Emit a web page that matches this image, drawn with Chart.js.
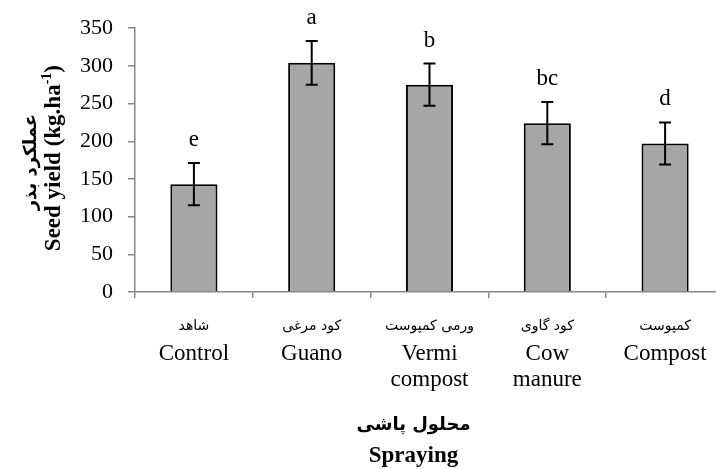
<!DOCTYPE html>
<html>
<head>
<meta charset="utf-8">
<script src="https://cdn.jsdelivr.net/npm/chart.js@4.4.1/dist/chart.umd.min.js"></script>
<style>
html,body{margin:0;padding:0;background:#fff;overflow:hidden;}
#wrap{width:730px;height:469px;}
</style>
</head>
<body>
<div id="wrap"><canvas id="c" width="730" height="469"></canvas></div>
<script>
const categoriesFa = ['شاهد', 'کود مرغی', 'ورمی کمپوست', 'کود گاوی', 'کمپوست'];
const categoriesEn = [['Control'], ['Guano'], ['Vermi', 'compost'], ['Cow', 'manure'], ['Compost']];
const yieldValues = [143, 304, 275, 224, 197];
const errorValues = [28, 29, 28, 28, 28];
const letters = ['e', 'a', 'b', 'bc', 'd'];
const yTicks = [0, 50, 100, 150, 200, 250, 300, 350];
const xTitleFa = 'محلول پاشی';
const xTitleEn = 'Spraying';
const yTitleFa = 'عملکرد بذر';
const yTitleEn = 'Seed yield (kg.ha';
const yTitleSup = '-1';

const SERIF = '"Liberation Serif", "Times New Roman", serif';
const FA = '"DejaVu Sans", "Noto Sans", sans-serif';

// English labels get an empty first line; the Persian line is drawn there by the plugin
const tickLabels = categoriesEn.map(l => [''].concat(l));

const extras = {
  id: 'extras',
  afterDatasetsDraw(chart) {
    const ctx = chart.ctx;
    const xs = chart.scales.x, ys = chart.scales.y;
    const ca = chart.chartArea;
    ctx.save();
    ctx.strokeStyle = '#000';
    ctx.lineWidth = 2;
    yieldValues.forEach((v, i) => {
      const x = xs.getPixelForValue(i);
      const yt = ys.getPixelForValue(v + errorValues[i]);
      const yb = ys.getPixelForValue(v - errorValues[i]);
      ctx.beginPath();
      ctx.moveTo(x, yt); ctx.lineTo(x, yb);
      ctx.moveTo(x - 6, yt); ctx.lineTo(x + 6, yt);
      ctx.moveTo(x - 6, yb); ctx.lineTo(x + 6, yb);
      ctx.stroke();
      ctx.fillStyle = '#000';
      ctx.font = '23px ' + SERIF;
      ctx.textAlign = 'center';
      ctx.textBaseline = 'alphabetic';
      ctx.fillText(letters[i], x, yt - 17);
    });
    // Persian category labels
    ctx.font = '14px ' + FA;
    ctx.textBaseline = 'middle';
    categoriesFa.forEach((t, i) => {
      ctx.fillText(t, xs.getPixelForValue(i), ca.bottom + 34);
    });
    // x axis title
    const xc = (ca.left + ca.right) / 2 - 16;
    ctx.font = 'bold 18px ' + FA;
    ctx.fillText(xTitleFa, xc, ca.bottom + 133);
    ctx.font = 'bold 23px ' + SERIF;
    ctx.textBaseline = 'alphabetic';
    ctx.fillText(xTitleEn, xc, ca.bottom + 170);
    // y axis title (rotated)
    const yc = (ca.top + ca.bottom) / 2;
    ctx.save();
    ctx.translate(36, yc + 2);
    ctx.rotate(-Math.PI / 2);
    ctx.font = 'bold 18px ' + FA;
    ctx.textAlign = 'center';
    ctx.textBaseline = 'alphabetic';
    ctx.fillText(yTitleFa, 0, 0);
    ctx.restore();
    ctx.save();
    ctx.translate(60, yc - 2);
    ctx.rotate(-Math.PI / 2);
    ctx.textAlign = 'left';
    ctx.textBaseline = 'alphabetic';
    ctx.font = 'bold 23px ' + SERIF;
    const w1 = ctx.measureText(yTitleEn).width;
    const w3 = ctx.measureText(')').width;
    ctx.font = 'bold 14px ' + SERIF;
    const w2 = ctx.measureText(yTitleSup).width;
    const x0 = -(w1 + w2 + w3) / 2;
    ctx.font = 'bold 23px ' + SERIF;
    ctx.fillText(yTitleEn, x0, 0);
    ctx.font = 'bold 14px ' + SERIF;
    ctx.fillText(yTitleSup, x0 + w1, -9);
    ctx.font = 'bold 23px ' + SERIF;
    ctx.fillText(')', x0 + w1 + w2, 0);
    ctx.restore();
    ctx.restore();
  }
};

new Chart(document.getElementById('c'), {
  type: 'bar',
  data: {
    labels: tickLabels,
    datasets: [{
      data: yieldValues,
      backgroundColor: '#a6a6a6',
      borderColor: '#000',
      borderWidth: 2,
      barPercentage: 0.4,
      categoryPercentage: 1.0
    }]
  },
  options: {
    responsive: false,
    animation: false,
    layout: { padding: { top: 25, right: 6, left: 0, bottom: 0 } },
    plugins: { legend: { display: false }, tooltip: { enabled: false } },
    scales: {
      x: {
        grid: { display: true, drawOnChartArea: false, drawTicks: true, tickLength: 6, offset: true, color: '#888', lineWidth: 1.5 },
        border: { display: true, color: '#888', width: 1.5 },
        ticks: { color: '#000', font: { family: SERIF, size: 23, lineHeight: 1.13 }, padding: 17, maxRotation: 0, autoSkip: false },
        afterFit(s) { s.height = 469 - 292; }
      },
      y: {
        min: 0, max: 350,
        afterBuildTicks(s) { s.ticks = yTicks.map(v => ({ value: v })); },
        grid: { display: true, drawOnChartArea: false, drawTicks: true, tickLength: 7, color: '#888', lineWidth: 1.5 },
        border: { display: true, color: '#888', width: 1.5 },
        ticks: { color: '#000', font: { family: SERIF, size: 22 }, padding: 15 },
        afterFit(s) { s.width = 135; }
      }
    }
  },
  plugins: [extras]
});
</script>
</body>
</html>
